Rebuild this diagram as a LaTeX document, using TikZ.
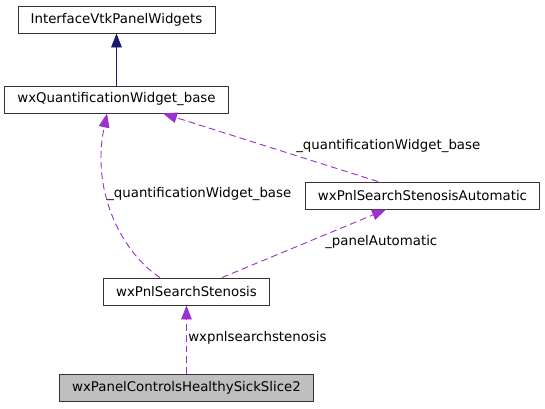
\documentclass[tikz,border=0pt]{standalone}
\usepackage{fontspec}
\setmainfont{DejaVu Sans}
\usetikzlibrary{arrows.meta}

\definecolor{edgeblue}{HTML}{191970}
\definecolor{edgepurple}{HTML}{9A32CD}
\definecolor{boxgray}{HTML}{BFBFBF}

\begin{document}
\begin{tikzpicture}
[
    x=0.75pt, y=-0.75pt,
    every node/.style={font=\fontsize{10}{12}\selectfont},
    cls/.style={draw=black!80, line width=0.7pt, minimum height=20.25pt, inner xsep=9.5pt, inner ysep=0pt},
    inherit/.style={draw=edgeblue, line width=0.7pt, -{Triangle[length=10.5pt,width=8pt]}},
    usage/.style={draw=edgepurple, line width=0.7pt, dash pattern=on 5pt off 3pt, -{Triangle[length=10.5pt,width=8pt]}},
    lbl/.style={anchor=west, inner sep=0pt},
]
\useasboundingbox (0,0) rectangle (545,408);
\node [cls] (iface) at (116.5,19.5) {InterfaceVtkPanelWidgets};
\node [cls] (qbase) at (116.5,99.5) {wxQuantificationWidget\_base};
\node [cls] (auto) at (422.5,195.5) {wxPnlSearchStenosisAutomatic};
\node [cls] (sten) at (186.5,291.5) {wxPnlSearchStenosis};
\node [cls, fill=boxgray] (slice) at (186.5,387.5) {wxPanelControlsHealthySickSlice2};
% inheritance
\draw [inherit] (qbase.north) -- (iface.south);
% usage relations
\draw [usage] (sten.north -| 160,0) .. controls (125,255) and (90,195) .. (qbase.south -| 107,0);
\node [lbl] (l1) at (107,194) {\_quantificationWidget\_base};
\draw [usage] (auto.north -| 378,0) -- (qbase.south -| 163,0);
\node [lbl] (l2) at (296,146) {\_quantificationWidget\_base};
\draw [usage] (sten.north -| 222,0) -- (auto.south -| 386,0);
\node [lbl] (l3) at (325,242) {\_panelAutomatic};
\draw [usage] (slice.north) -- (sten.south);
\node [lbl] (l4) at (188,338) {wxpnlsearchstenosis};
\end{tikzpicture}
\end{document}
